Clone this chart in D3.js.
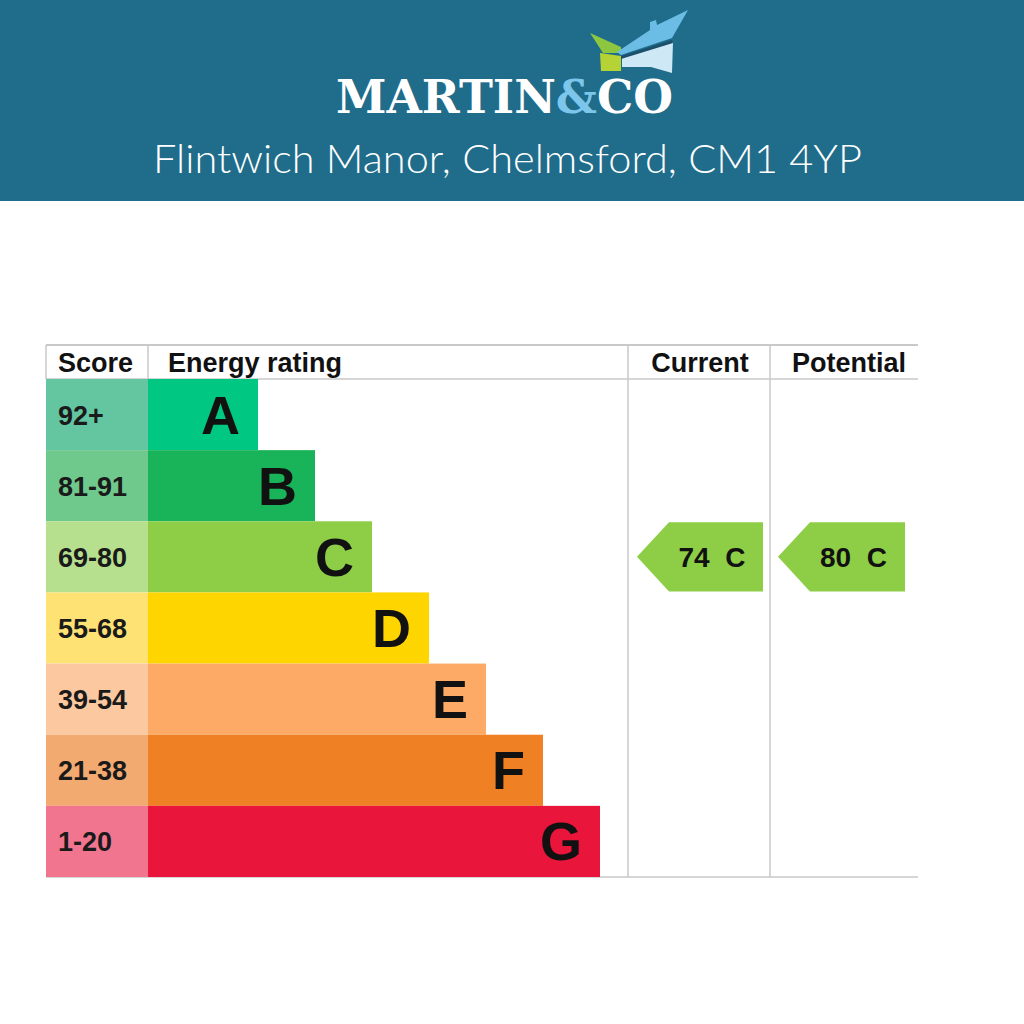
<!DOCTYPE html>
<html>
<head>
<meta charset="utf-8">
<script src="https://cdn.jsdelivr.net/npm/d3@7"></script>
<style>
  html, body { margin: 0; padding: 0; background: #ffffff; }
  svg { display: block; }
</style>
</head>
<body>
<script>
// ---- data ----
const bandLetters = ["A", "B", "C", "D", "E", "F", "G"];
const scoreRanges = ["92+", "81-91", "69-80", "55-68", "39-54", "21-38", "1-20"];
const bandRank = [1, 2, 3, 4, 5, 6, 7];          // bar length rank
const bandColors = ["#00c781", "#19b459", "#8dce46", "#ffd500", "#fcaa65", "#ef8023", "#e9153b"];
const scoreColors = ["#63c6a1", "#6fc98c", "#b6e08e", "#fee374", "#fcc8a0", "#f3aa70", "#f27590"];
const columnHeaders = ["Score", "Energy rating", "Current", "Potential"];
const ratingKeys = ["Current", "Potential"];
const ratingValues = [74, 80];
const ratingBands = ["C", "C"];
const titleText = "Flintwich Manor, Chelmsford, CM1 4YP";

(function () {
// ---- setup ----
const W = 1024, H = 1024;
const svg = d3.select("body").append("svg").attr("width", W).attr("height", H);
svg.append("rect").attr("width", W).attr("height", H).attr("fill", "#ffffff");

// header band
svg.append("rect").attr("x", 0).attr("y", 0).attr("width", W).attr("height", 201).attr("fill", "#1f6c8b");

// logo icon
const logo = svg.append("g");
logo.append("polygon").attr("points", "590,33 621,47 621,53 603,53").attr("fill", "#8dc63f");
logo.append("polygon").attr("points", "600,53 621,56 621,71 601,71").attr("fill", "#b5d334");
logo.append("polygon").attr("points", "617,52 650,30 650,22 656,20 657,25 688,10 672,38 621,55").attr("fill", "#6bbde6");
logo.append("polygon").attr("points", "622,57 673,42 672,73 651,67 622,67").attr("fill", "#cfe8f6");
logo.append("polygon").attr("points", "621,56 672,40 673,43 621,59").attr("fill", "#1b4f6b");

// logo text
const logoText = svg.append("text")
  .attr("x", 336).attr("y", 113)
  .attr("font-family", "DejaVu Serif, serif").attr("font-weight", "bold")
  .attr("font-size", 46)
  .attr("textLength", 337).attr("lengthAdjust", "spacingAndGlyphs");
logoText.append("tspan").attr("fill", "#ffffff").text("MARTIN");
logoText.append("tspan").attr("fill", "#7cc6ec").text("&");
logoText.append("tspan").attr("fill", "#ffffff").text("CO");

// title
svg.append("text")
  .attr("x", 153).attr("y", 173)
  .attr("font-family", "Lato, 'Open Sans', sans-serif").attr("font-weight", 300)
  .attr("font-size", 40).attr("fill", "#ffffff")
  .attr("textLength", 709).attr("lengthAdjust", "spacingAndGlyphs")
  .text(titleText);

// ---- chart geometry ----
const leftX = 46, scoreEnd = 148, curX0 = 628, curX1 = 770, potX1 = 918;
const topY = 345, headerBottom = 379, bottomY = 877;

const y = d3.scaleBand().domain(bandLetters).range([headerBottom, bottomY]).padding(0);
const xBar = d3.scaleLinear().domain([1, 7]).range([258, 600]);
const font = "'Liberation Sans', Arial, sans-serif";
const grid = "#c9c9c9";

// grid lines
const g = svg.append("g");
g.append("line").attr("x1", leftX).attr("x2", potX1).attr("y1", topY).attr("y2", topY).attr("stroke", grid).attr("stroke-width", 2);
g.append("line").attr("x1", leftX).attr("x2", potX1).attr("y1", headerBottom).attr("y2", headerBottom).attr("stroke", grid).attr("stroke-width", 1.5);
g.append("line").attr("x1", leftX).attr("x2", potX1).attr("y1", bottomY).attr("y2", bottomY).attr("stroke", grid).attr("stroke-width", 1.5);
[leftX, scoreEnd].forEach(x => g.append("line").attr("x1", x).attr("x2", x).attr("y1", topY).attr("y2", headerBottom).attr("stroke", grid).attr("stroke-width", 1.5));
[curX0, curX1].forEach(x => g.append("line").attr("x1", x).attr("x2", x).attr("y1", topY).attr("y2", bottomY).attr("stroke", grid).attr("stroke-width", 1.5));

// column headers
const headerX = [58, 168, 700, 849];
const headerAnchor = ["start", "start", "middle", "middle"];
svg.append("g").selectAll("text").data(columnHeaders).join("text")
  .attr("x", (d, i) => headerX[i]).attr("y", 372)
  .attr("text-anchor", (d, i) => headerAnchor[i])
  .attr("font-family", font).attr("font-weight", "bold").attr("font-size", 27)
  .attr("fill", "#111").text(d => d);

// rows
const rows = svg.append("g").selectAll("g").data(bandLetters).join("g");
rows.append("rect")
  .attr("x", leftX).attr("y", d => y(d)).attr("width", scoreEnd - leftX).attr("height", y.bandwidth())
  .attr("fill", (d, i) => scoreColors[i]);
rows.append("rect")
  .attr("x", scoreEnd).attr("y", d => y(d)).attr("width", (d, i) => xBar(bandRank[i]) - scoreEnd).attr("height", y.bandwidth())
  .attr("fill", (d, i) => bandColors[i]);
rows.append("text")
  .attr("x", 58).attr("y", d => y(d) + y.bandwidth() / 2 + 10)
  .attr("font-family", font).attr("font-weight", "bold").attr("font-size", 27)
  .attr("fill", "#1a1a1a").text((d, i) => scoreRanges[i]);
rows.append("text")
  .attr("x", (d, i) => xBar(bandRank[i]) - 18).attr("y", d => y(d) + y.bandwidth() / 2 + 19)
  .attr("text-anchor", "end")
  .attr("font-family", font).attr("font-weight", "bold").attr("font-size", 54)
  .attr("fill", "#111").text(d => d);

// rating arrows
const colBounds = [[curX0 + 9, curX1 - 7], [curX1 + 8, potX1 - 13]];
const arrows = svg.append("g").selectAll("g").data(ratingKeys).join("g");
arrows.append("path")
  .attr("d", (d, i) => {
    const b = ratingBands[i];
    const x0 = colBounds[i][0], x1 = colBounds[i][1];
    const y0 = y(b) + 1, y1 = y(b) + y.bandwidth() - 1, ym = (y0 + y1) / 2;
    const p = d3.path();
    p.moveTo(x0, ym); p.lineTo(x0 + 32, y0); p.lineTo(x1, y0); p.lineTo(x1, y1); p.lineTo(x0 + 32, y1); p.closePath();
    return p.toString();
  })
  .attr("fill", (d, i) => bandColors[bandLetters.indexOf(ratingBands[i])]);
arrows.append("text")
  .attr("x", (d, i) => (colBounds[i][0] + colBounds[i][1]) / 2 + 12)
  .attr("y", (d, i) => y(ratingBands[i]) + y.bandwidth() / 2 + 10)
  .attr("text-anchor", "middle")
  .attr("font-family", font).attr("font-weight", "bold").attr("font-size", 28)
  .attr("fill", "#111")
  .style("white-space", "pre")
  .text((d, i) => ratingValues[i] + "  " + ratingBands[i]);
})();
</script>
</body>
</html>
